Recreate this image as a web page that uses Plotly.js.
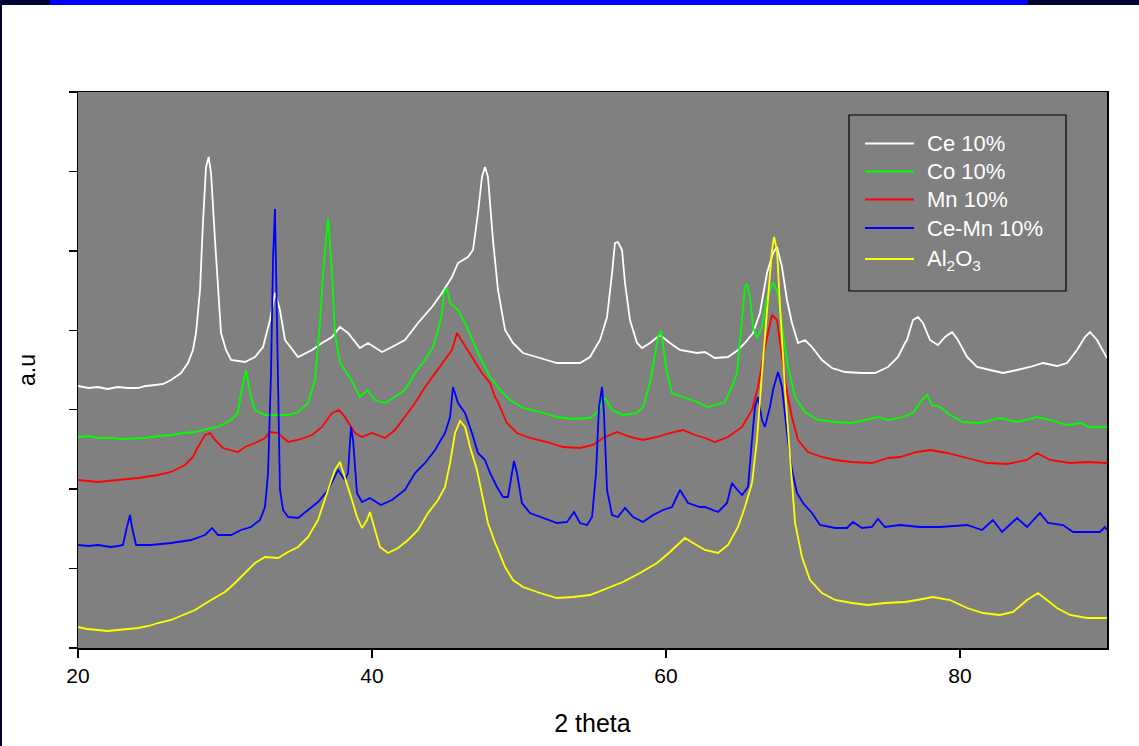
<!DOCTYPE html>
<html>
<head>
<meta charset="utf-8">
<script src="https://cdn.plot.ly/plotly-3.0.1.min.js"></script>
<style>
html,body{margin:0;padding:0;background:#fff;}
#chart{width:1139px;height:746px;}
</style>
</head>
<body>
<div id="chart"></div>
<script>
// ---- data: 2 theta (deg) and intensity (a.u.) ----
const seriesNames = ["Ce 10%", "Co 10%", "Mn 10%", "Ce-Mn 10%", "Al<sub>2</sub>O<sub>3</sub>"];

const ceX = [20.00,20.7,21.36,22.0,22.72,23.4,24.08,24.6,25.24,25.8,26.33,27.01,27.48,27.82,28.03,28.30,28.50,28.71,28.89,29.05,29.32,29.52,29.73,30.07,30.41,31.36,32.04,32.59,33.06,33.40,33.74,34.08,34.97,35.92,36.60,37.28,37.82,38.37,39.18,39.73,40.68,41.36,42.24,43.13,44.08,44.76,45.44,45.85,46.53,46.87,47.21,47.48,47.69,47.89,48.23,48.57,49.05,49.59,50.27,51.43,52.59,54.15,54.83,55.51,55.99,56.33,56.53,56.73,57.01,57.21,57.55,58.03,58.37,58.91,59.59,60.27,60.95,62.11,62.65,63.33,64.22,64.90,65.37,65.92,66.39,66.87,67.28,67.55,67.89,68.23,68.57,68.98,69.46,69.93,70.61,71.29,72.18,73.33,74.22,75.10,75.78,76.26,76.39,76.80,77.14,77.48,77.96,78.50,78.98,79.46,79.86,80.48,81.16,82.04,82.93,83.88,84.76,85.65,86.60,87.28,87.96,88.50,88.84,89.32,90.00];
const ceY = [262,260,261,259,261,260,260,262,263,264,268,275,285,298,315,358,425,481,491,475,408,358,315,298,288,286,291,301,328,355,338,308,291,298,305,311,321,315,300,305,296,301,308,325,341,355,371,385,391,398,435,471,481,471,408,358,318,305,295,290,285,285,291,308,331,375,405,406,398,365,328,305,300,305,313,305,298,295,296,290,291,298,305,315,335,375,395,401,381,348,325,305,308,301,288,280,276,275,275,281,291,305,308,328,331,325,308,303,311,316,308,291,281,278,275,278,281,285,282,285,298,311,316,308,290];

const coX = [20.00,20.7,21.36,22.24,23.0,24.08,24.56,25.5,26.33,27.2,27.96,28.8,29.52,30.41,30.88,31.09,31.36,31.43,31.70,32.04,32.72,33.61,34.29,34.97,35.65,36.12,36.46,36.67,36.94,37.01,37.28,37.48,37.82,38.16,38.71,39.18,39.66,40.20,40.88,41.56,42.24,42.93,43.61,44.15,44.49,44.76,44.90,45.10,45.31,45.85,46.33,46.80,47.21,47.69,48.03,48.37,48.71,49.39,50.27,51.43,52.59,53.67,54.83,55.31,55.85,56.33,57.07,58.03,58.44,58.91,59.25,59.46,59.66,59.80,60.07,60.41,61.16,62.11,62.86,64.01,64.49,64.83,65.17,65.37,65.51,65.71,65.92,66.19,66.53,66.87,67.28,67.62,67.96,68.30,68.78,69.46,70.34,71.50,72.65,73.54,74.42,75.10,75.92,76.80,77.41,77.76,78.10,78.64,79.32,80.20,81.36,82.72,83.88,85.24,86.12,87.28,88.30,88.71,90.00];
const coY = [211,212,210,210,209,210,210,212,213,215,216,219,221,228,235,255,275,278,255,238,233,233,233,236,245,268,325,375,425,430,375,315,285,278,265,251,258,248,245,251,258,275,288,301,318,335,355,360,345,338,325,308,295,281,271,265,258,248,240,236,231,229,230,235,250,238,233,235,241,265,291,311,317,301,275,255,251,246,241,246,261,275,328,361,364,351,321,310,321,351,365,355,315,281,251,236,228,226,225,228,231,228,230,235,248,253,243,241,233,226,225,230,226,231,228,223,225,221,221];

const mnX = [20.00,20.7,21.36,22.0,22.72,23.4,24.08,25.44,26.33,27.28,27.82,28.16,28.64,28.98,29.32,29.86,30.41,30.88,31.36,32.04,32.72,33.06,33.61,34.29,34.97,35.92,36.60,37.28,37.76,38.16,38.84,39.32,40.00,40.88,41.56,42.24,42.93,43.61,44.29,44.97,45.44,45.78,46.19,46.80,47.48,48.03,48.37,48.50,49.18,49.86,50.75,51.90,53.00,54.15,55.03,55.71,56.67,57.55,58.44,59.39,60.27,61.16,61.97,62.65,63.33,64.22,65.17,65.85,66.26,66.73,67.21,67.55,67.89,68.23,68.57,68.98,69.66,70.61,71.50,72.65,74.01,75.10,75.92,77.07,77.96,79.12,80.48,81.84,83.20,84.56,85.24,86.12,87.48,88.64,90.00];
const mnY = [168,167,166,167,168,169,170,173,176,183,191,201,213,215,208,200,198,196,201,205,210,216,215,206,208,213,221,235,238,231,215,211,215,210,218,231,245,261,275,288,298,315,305,291,275,265,251,248,225,215,210,206,201,200,203,210,216,211,208,211,215,218,213,210,206,211,221,238,261,301,333,328,291,255,231,208,196,191,188,186,185,190,191,196,198,195,190,185,184,188,195,188,185,186,185];

const cemnX = [20.00,20.7,21.36,22.24,22.72,23.06,23.33,23.54,23.67,23.95,24.97,25.8,26.33,27.69,28.64,29.12,29.52,30.41,31.09,31.77,32.38,32.72,32.93,33.13,33.27,33.40,33.47,33.61,33.74,33.95,34.29,34.97,35.65,36.33,37.01,37.69,38.16,38.37,38.57,38.71,38.98,39.32,39.86,40.61,41.36,42.24,42.93,43.61,44.29,44.97,45.31,45.51,45.85,46.33,46.80,47.21,47.69,48.03,48.50,48.91,49.25,49.52,49.66,49.86,50.20,50.75,51.63,52.59,53.27,53.74,54.15,54.63,54.97,55.24,55.44,55.65,55.78,55.99,56.33,56.73,57.21,57.76,58.44,59.12,59.80,60.41,60.95,61.50,62.31,62.65,63.54,64.15,64.49,64.69,65.17,65.58,65.85,66.05,66.26,66.53,66.73,67.07,67.28,67.62,67.89,68.23,68.57,68.91,69.32,69.93,70.48,71.50,72.31,72.72,73.33,74.01,74.42,74.90,75.92,77.28,78.64,80.48,81.50,82.24,82.86,83.88,84.56,85.44,85.99,87.01,87.69,88.84,89.52,89.86,90.00];
const cemnY = [103,102,103,101,102,103,121,133,121,103,103,104,105,108,113,120,113,113,118,121,128,141,175,275,391,439,375,241,158,138,131,130,138,146,158,178,168,175,221,208,155,146,150,143,148,158,175,185,198,215,231,261,245,235,215,195,188,175,161,151,151,175,187,175,145,135,130,125,126,136,125,123,131,175,241,261,235,158,133,131,140,131,126,133,138,141,158,145,141,141,136,145,165,161,153,161,208,241,251,228,221,241,258,276,261,215,178,155,145,135,123,120,120,126,120,121,129,121,123,121,121,123,118,128,116,130,121,135,125,123,116,116,116,121,118];

const alX = [20.00,20.6,21.36,22.0,22.72,23.4,24.08,24.8,25.44,26.33,26.80,27.96,29.05,30.00,30.68,31.36,32.04,32.72,33.61,34.29,34.97,35.65,36.33,37.01,37.48,37.82,38.16,38.64,38.98,39.32,39.66,39.86,40.07,40.54,41.09,41.77,42.45,43.13,43.81,44.49,44.97,45.31,45.65,45.99,46.33,46.67,47.14,47.55,47.89,48.37,48.50,49.05,49.59,50.27,51.43,52.59,53.67,54.83,55.99,57.07,58.23,59.39,60.27,60.95,61.29,61.84,62.31,62.65,63.54,64.22,64.90,65.37,65.85,66.19,66.53,66.87,67.21,67.35,67.55,67.76,68.10,68.44,68.78,69.25,69.80,70.61,71.50,72.65,73.74,74.90,76.26,77.07,78.16,79.32,80.48,81.56,82.72,83.61,84.56,85.31,85.92,86.60,87.48,88.64,90.00];
const alY = [21,19,18,17,18,19,20,22,25,28,31,38,48,56,65,75,85,91,90,96,101,111,128,158,178,186,171,148,131,120,128,136,125,101,95,100,108,118,135,148,161,185,215,227,221,201,178,148,125,105,101,81,68,61,55,50,51,53,60,66,75,85,96,106,110,105,101,98,95,103,121,141,165,208,275,341,398,411,398,341,258,191,125,91,68,55,48,45,43,45,46,48,51,48,40,35,33,36,48,55,48,40,33,30,30];

const xTickVals = [20, 40, 60, 80];
const lineColors = ["#ffffff", "#00ff00", "#ff0000", "#0000ff", "#ffff00"];

const FONT = "Arial, 'Liberation Sans', sans-serif";
const xs = [ceX, coX, mnX, cemnX, alX];
const ys = [ceY, coY, mnY, cemnY, alY];

const traces = xs.map((x, i) => ({
  type: "scatter", mode: "lines",
  x: x, y: ys[i], name: seriesNames[i],
  line: {color: lineColors[i], width: 1.8}
}));

// positions in paper coords: plot area spans x 78..1107 px, y 92..648 px
const W = 1029, H = 556;
const px = v => (v - 78) / W;
const py = v => (648 - v) / H;

const shapes = [
  // page frame bars
  {type: "rect", xref: "paper", yref: "paper", x0: px(0), x1: px(50), y0: py(5), y1: py(0), fillcolor: "#000033", line: {width: 0}},
  {type: "rect", xref: "paper", yref: "paper", x0: px(50), x1: px(1028), y0: py(5), y1: py(0), fillcolor: "#0000ff", line: {width: 0}},
  {type: "rect", xref: "paper", yref: "paper", x0: px(1028), x1: px(1139), y0: py(5), y1: py(0), fillcolor: "#000033", line: {width: 0}},
  {type: "rect", xref: "paper", yref: "paper", x0: px(0), x1: px(2), y0: py(746), y1: py(0), fillcolor: "#000033", line: {width: 0}},
  // legend box
  {type: "rect", xref: "paper", yref: "paper", x0: px(849), x1: px(1066), y0: py(291), y1: py(115), fillcolor: "#808080", line: {color: "#000", width: 1.2}, layer: "above"}
];
const annotations = [];
const legendRows = [143.5, 171.5, 199.5, 228, 259];
seriesNames.forEach((nm, i) => {
  shapes.push({type: "line", xref: "paper", yref: "paper", x0: px(865), x1: px(914), y0: py(legendRows[i]), y1: py(legendRows[i]), line: {color: lineColors[i], width: 1.8}, layer: "above"});
  annotations.push({xref: "paper", yref: "paper", x: px(925), y: py(legendRows[i] + (i === 4 ? 1 : 0)), xanchor: "left", yanchor: "middle", showarrow: false, text: nm, font: {family: FONT, size: 22, color: "#ffffff"}});
});

const layout = {
  width: 1139, height: 746,
  margin: {l: 78, r: 32, t: 92, b: 98},
  paper_bgcolor: "#ffffff",
  plot_bgcolor: "#808080",
  font: {family: FONT, size: 21, color: "#000000"},
  showlegend: false,
  xaxis: {
    range: [20, 90], tickmode: "array", tickvals: xTickVals, ticktext: xTickVals.map(String),
    ticks: "outside", ticklen: 8, tickwidth: 1.5, tickcolor: "#000",
    showline: true, linecolor: "#000", linewidth: 1.5, mirror: true,
    showgrid: false, zeroline: false,
    tickfont: {family: FONT, size: 21, color: "#000"},
    title: {text: "2 theta", font: {family: FONT, size: 25, color: "#000"}, standoff: 29}
  },
  yaxis: {
    range: [0, 556], tick0: 0, dtick: 79.428,
    ticks: "outside", ticklen: 8, tickwidth: 1.5, tickcolor: "#000",
    showticklabels: false,
    showline: true, linecolor: "#000", linewidth: 1.5, mirror: true,
    showgrid: false, zeroline: false,
    title: {text: "a.u", font: {family: FONT, size: 23, color: "#000"}, standoff: 26}
  },
  shapes: shapes,
  annotations: annotations
};

Plotly.newPlot("chart", traces, layout, {staticPlot: true, displayModeBar: false});
</script>
</body>
</html>
